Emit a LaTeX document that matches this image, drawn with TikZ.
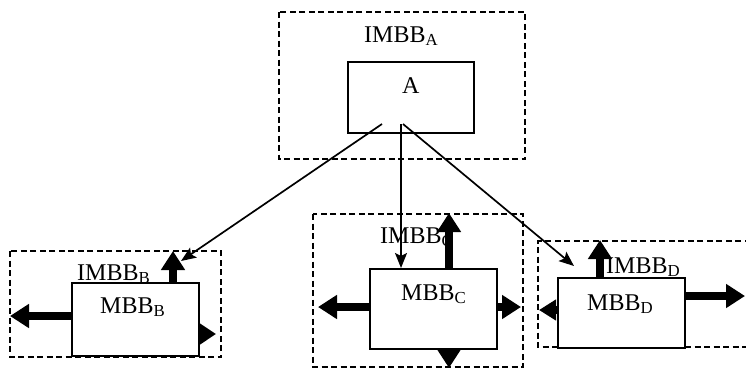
\documentclass[tikz,border=0pt]{standalone}
\usepackage{fontspec}
\setmainfont{Liberation Serif}
\usetikzlibrary{arrows.meta}
\begin{document}
\begin{tikzpicture}[x=1pt,y=-1pt,
  dashbox/.style={draw,line width=1.8pt,dash pattern=on 6pt off 3.5pt},
  modbox/.style={draw,fill=white,line width=1.4pt},
  lbl/.style={font=\fontsize{24}{27}\selectfont,inner sep=0pt,anchor=base west},
  thin/.style={line width=1.7pt,-{Stealth[length=15pt,width=12pt,inset=3pt]}},
  thick/.style={line width=7.5pt,-{Triangle[length=19pt,width=23pt]}}]
\useasboundingbox (0,0) rectangle (746,368);
% dashed boxes
\draw[dashbox] (279,12) rectangle (525,159);
\draw[dashbox] (10,251) rectangle (221,357);
\draw[dashbox] (313,214) rectangle (523,367);
\draw[dashbox] (760,241) -- (538,241) -- (538,347) -- (760,347);
% outer labels
\node[lbl] (la) at (364,42) {IMBB\textsubscript{A}};
\node[lbl] (lb) at (77,280) {IMBB\textsubscript{B}};
\node[lbl] (lc) at (380,243) {IMBB\textsubscript{C}};
\node[lbl] (ld) at (606,273) {IMBB\textsubscript{D}};
% module boxes
\draw[modbox] (348,62) rectangle (474,133);
\node[minimum width=126pt,minimum height=71pt] (A) at (411,97.5) {};
\draw[modbox] (72,283) rectangle (199,356);
\node[minimum width=127pt,minimum height=73pt] (B) at (135.5,319.5) {};
\draw[modbox] (370,269) rectangle (497,349);
\node[minimum width=127pt,minimum height=80pt] (C) at (433.5,309) {};
\draw[modbox] (558,278) rectangle (685,348);
\node[minimum width=127pt,minimum height=70pt] (D) at (621.5,313) {};
% inner labels
\node[lbl] (ta) at (402,93) {A};
\node[lbl] (tb) at (100,313) {MBB\textsubscript{B}};
\node[lbl] (tc) at (401,300) {MBB\textsubscript{C}};
\node[lbl] (td) at (587,310) {MBB\textsubscript{D}};
% thin arrows from A
\coordinate (a1) at (382,124);
\coordinate (a2) at (401,124);
\coordinate (a3) at (403,124);
\coordinate (tB) at (181,261);
\coordinate (tC) at (401,268);
\coordinate (tD) at (574,266);
\draw[thin] (a1) -- (tB);
\draw[thin] (a2) -- (tC);
\draw[thin] (a3) -- (tD);
% thick arrows B
\coordinate (bL) at (10,316);
\coordinate (bU) at (173,251);
\coordinate (bR) at (216,334);
\draw[thick] (B.west |- bL) -- (bL);
\draw[thick] (B.north -| bU) -- (bU);
\draw[thick,-{Triangle[length=16pt,width=20pt]}] (199,334) -- (bR);
% thick arrows C
\coordinate (cL) at (318,307);
\coordinate (cU) at (449,213);
\coordinate (cR) at (521,307);
\coordinate (cD) at (449,368);
\draw[thick] (C.west |- cL) -- (cL);
\draw[thick] (C.north -| cU) -- (cU);
\draw[thick] (C.east |- cR) -- (cR);
\draw[thick] (C.south -| cD) -- (cD);
% thick arrows D
\coordinate (dL) at (539,310);
\coordinate (dU) at (600,240);
\coordinate (dR) at (745,296);
\draw[thick,-{Triangle[length=17pt,width=20pt]}] (D.west |- dL) -- (dL);
\draw[thick] (D.north -| dU) -- (dU);
\draw[thick] (D.east |- dR) -- (dR);
\end{tikzpicture}
\end{document}
